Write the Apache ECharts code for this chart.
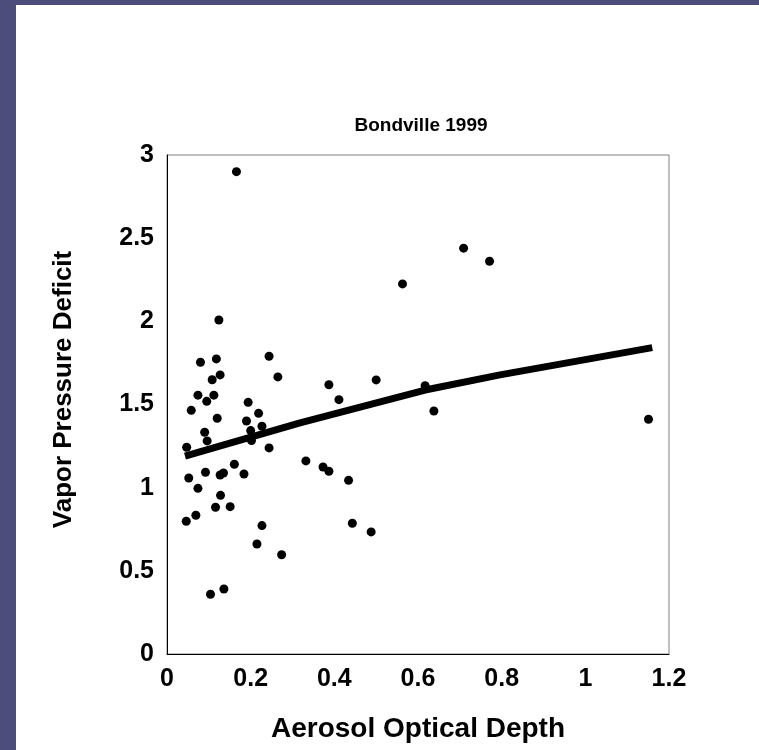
<!DOCTYPE html>
<html>
<head>
<meta charset="utf-8">
<script src="https://cdn.jsdelivr.net/npm/echarts@6/dist/echarts.min.js"></script>
<style>
  html, body { margin: 0; padding: 0; width: 759px; height: 750px; overflow: hidden; }
  body { background: #4d4d7c; position: relative; }
  #main { position: absolute; left: 16px; top: 5px; width: 743px; height: 745px; background: #fff; }
</style>
</head>
<body>
<div id="main"></div>
<script>
// aerosol optical depth vs vapor pressure deficit, Bondville 1999
const aod = [
  0.166, 0.563, 0.124, 0.080, 0.118, 0.244, 0.108, 0.127, 0.265, 0.387,
  0.500, 0.617, 0.074, 0.112, 0.095, 0.058, 0.194, 0.411, 0.638, 0.219,
  0.120, 0.190, 0.227, 0.090, 0.200, 0.096, 0.202, 0.047, 0.244, 0.332,
  0.373, 0.387, 0.161, 0.092, 0.127, 0.135, 0.184, 0.052, 0.434, 0.074,
  0.128, 0.116, 0.151, 0.069, 0.046, 0.227, 0.443, 0.488, 0.215, 0.274,
  0.104, 0.136, 0.709, 0.771, 1.151
];
const vpd = [
  2.90, 2.225, 2.008, 1.754, 1.774, 1.790, 1.649, 1.678, 1.666, 1.619,
  1.648, 1.613, 1.556, 1.556, 1.519, 1.465, 1.513, 1.529, 1.461, 1.447,
  1.417, 1.401, 1.369, 1.333, 1.343, 1.281, 1.283, 1.243, 1.239, 1.161,
  1.124, 1.099, 1.141, 1.093, 1.076, 1.088, 1.082, 1.058, 1.044, 0.996,
  0.954, 0.882, 0.886, 0.834, 0.798, 0.772, 0.786, 0.734, 0.661, 0.597,
  0.359, 0.391, 2.440, 2.361, 1.411
];
// trend line
const trendX = [0.043, 0.318, 0.617, 0.796, 1.16];
const trendY = [1.19, 1.389, 1.587, 1.678, 1.842];

const xTicks = [0, 0.2, 0.4, 0.6, 0.8, 1, 1.2];
const yTicks = [0, 0.5, 1, 1.5, 2, 2.5, 3];

const font = "Liberation Sans, Arial, sans-serif";

const option = {
  animation: false,
  backgroundColor: "#fff",
  title: {
    text: "Bondville 1999",
    left: 400,
    top: 106,
    textAlign: "center",
    textStyle: { fontFamily: font, fontSize: 19, fontWeight: "bold", color: "#000" },
  },
  grid: {
    left: 151,
    top: 150,
    width: 502,
    height: 499,
    show: true,
    borderColor: "#808080",
    borderWidth: 1,
    backgroundColor: "#fff",
  },
  xAxis: {
    type: "value",
    min: 0,
    max: 1.2,
    interval: 0.2,
    name: "Aerosol Optical Depth",
    nameLocation: "middle",
    nameGap: 61,
    nameTextStyle: { fontFamily: font, fontSize: 28, fontWeight: "bold", color: "#000" },
    axisLine: { lineStyle: { color: "#000", width: 1 } },
    axisTick: { show: false },
    splitLine: { show: false },
    axisLabel: {
      fontFamily: font, fontSize: 25, fontWeight: "bold", color: "#000", margin: 13,
      formatter: (v) => (xTicks.includes(+v.toFixed(1)) ? String(+v.toFixed(1)) : ""),
    },
  },
  yAxis: {
    type: "value",
    min: 0,
    max: 3,
    interval: 0.5,
    name: "Vapor Pressure Deficit",
    nameLocation: "middle",
    nameGap: 90,
    nameTextStyle: {
      fontFamily: font, fontSize: 26, fontWeight: "bold", color: "#000",
      padding: [0, 0, 0, 30],
    },
    axisLine: { show: true, lineStyle: { color: "#000", width: 1 } },
    axisTick: { show: false },
    splitLine: { show: false },
    axisLabel: {
      fontFamily: font, fontSize: 25, fontWeight: "bold", color: "#000", margin: 13,
      formatter: (v) => (yTicks.includes(+v.toFixed(1)) ? String(+v.toFixed(1)) : ""),
    },
  },
  series: [
    {
      type: "scatter",
      data: aod.map((x, i) => [x, vpd[i]]),
      symbolSize: 9,
      itemStyle: { color: "#000", opacity: 1 },
      z: 3,
    },
    {
      type: "line",
      data: trendX.map((x, i) => [x, trendY[i]]),
      symbol: "none",
      lineStyle: { color: "#000", width: 7, cap: "butt", join: "round" },
      z: 4,
    },
  ],
};

const myChart = echarts.init(document.getElementById("main"));
myChart.setOption(option);
</script>
</body>
</html>
